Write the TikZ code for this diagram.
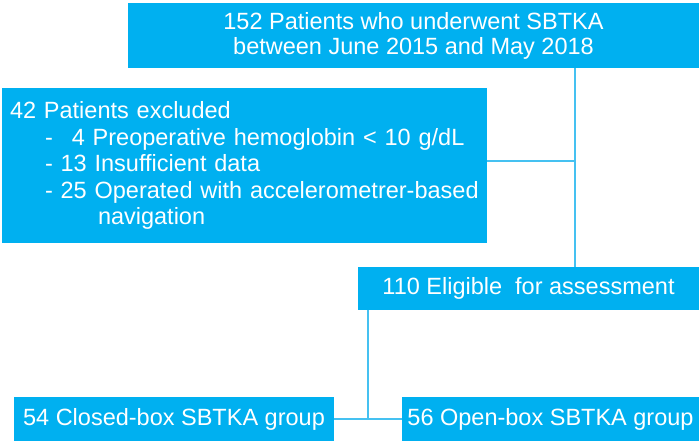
\documentclass[tikz,border=0pt]{standalone}
\usepackage{fontspec}
\setmainfont{Liberation Sans}
\definecolor{boxblue}{HTML}{00B0F0}
\definecolor{linkblue}{HTML}{45C1F1}

\begin{document}
\begin{tikzpicture}[x=1pt,y=-1pt,
  flowbox/.style={fill=boxblue,text=white,inner sep=0pt,
    font=\fontsize{23.5}{25}\selectfont},
  link/.style={draw=linkblue,line width=2pt}]
\path[use as bounding box] (0,0) rectangle (700,443);
% boxes
\node[flowbox,minimum width=571pt,minimum height=65pt,align=center] (top) at (413.5,35.5)
  {152 Patients who underwent SBTKA\\between June 2015 and May 2018};
\node[flowbox,minimum height=155pt,text width=469pt,inner xsep=8pt,align=left,
  font=\fontsize{23.5}{26.5}\selectfont] (excl) at (244.5,165.5)
  {42 Patients excluded\\
   \hspace*{35pt}-\hspace{19pt}4 Preoperative hemoglobin < 10 g/dL\\
   \hspace*{35pt}- 13 Insufficient data\\
   \hspace*{35pt}- 25 Operated with accelerometrer-based\\
   \hspace*{88pt}navigation};
\node[flowbox,minimum width=341pt,minimum height=43pt] (elig) at (528.5,288.5)
  {110 Eligible\ \ for assessment};
\node[flowbox,minimum width=320pt,minimum height=44pt] (closed) at (174,419)
  {54 Closed-box SBTKA group};
\node[flowbox,minimum width=297pt,minimum height=44pt] (open) at (550.5,419)
  {56 Open-box SBTKA group};
% connectors
\coordinate (trunk) at (575,161);
\coordinate (split) at (368,419);
\draw[link] (top.south -| trunk) -- (elig.north -| trunk);
\draw[link] (excl.east |- trunk) -- (trunk);
\draw[link] (elig.south -| split) -- (split);
\draw[link] (closed.east) -- (open.west);
\end{tikzpicture}
\end{document}
